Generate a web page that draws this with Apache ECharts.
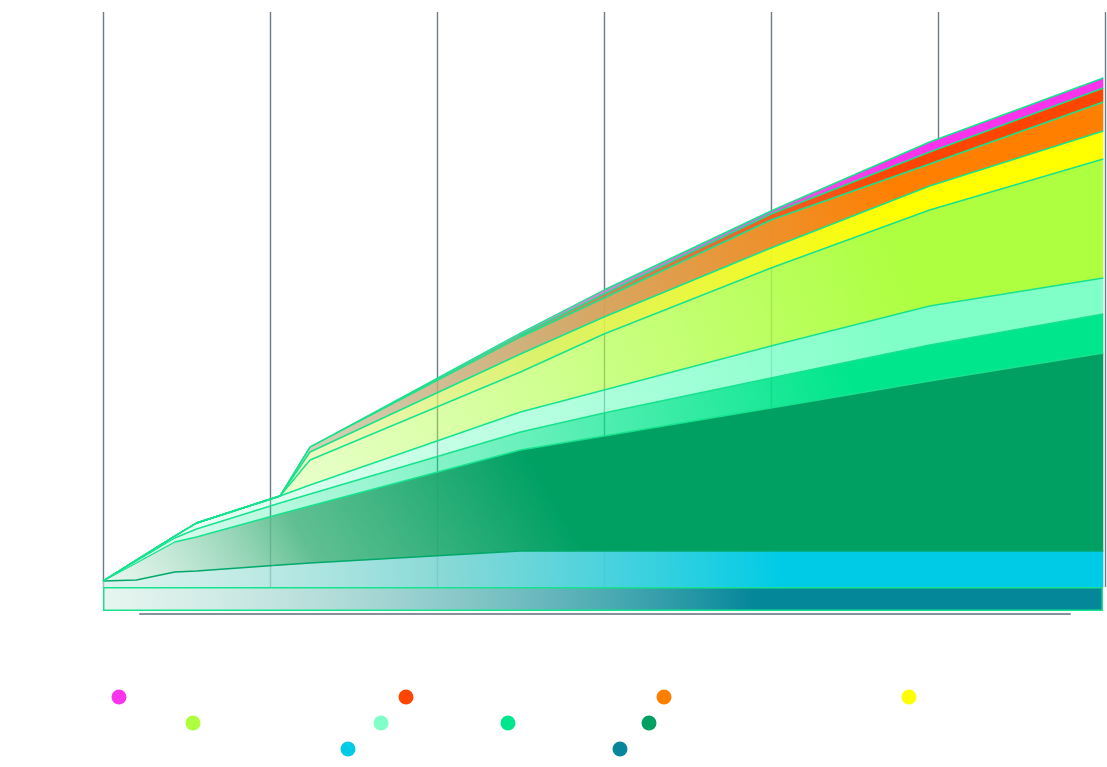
<!DOCTYPE html>
<html><head><meta charset="utf-8">
<script src="https://cdn.jsdelivr.net/npm/echarts@6/dist/echarts.min.js"></script>
<style>html,body{margin:0;padding:0;background:#fff}#c{width:1107px;height:767px}</style>
</head><body><div id="c"></div>
<script>
// ---- data ----
const xValues = [0, 0.2, 0.43, 0.56, 1.06, 1.24, 2.5, 3.0, 4.0, 4.95, 5.99];
const cyanValues        = [1.2, 1.4, 3, 3.2, 4.4, 4.8, 7.2, 7.2, 7.2, 7.2, 7.2];
const greenValues       = [0, 3.4, 6, 6.8, 10.2, 11.4, 20.2, 23, 28.6, 34, 39.6];
const springGreenValues = [0, 0.4, 0.8, 1.6, 2.2, 2.4, 3.6, 4.6, 6, 7.2, 7.8];
const aquamarineValues  = [0, 0.2, 0.4, 1.2, 1.4, 1.8, 4, 4.6, 6.4, 7.8, 7.2];
const greenYellowValues = [0, 0, 0, 0, 0, 5, 8, 11.2, 15.6, 19.2, 23.8];
const yellowValues      = [0, 0, 0, 0, 0, 1.6, 3.6, 3.4, 4, 4.8, 5.6];
const orangeValues      = [0, 0, 0, 0, 0, 1, 3.4, 3.8, 5.6, 4.4, 5.8];
const orangeRedValues   = [0, 0, 0, 0, 0, 0, 0.4, 0.8, 1.2, 2.4, 2.8];
const magentaValues     = [0, 0, 0, 0, 0, 0, 0.4, 0.8, 0.6, 2, 2];
const tealValues = [4.8];
const tealCategories = [''];
const seriesNames = ['Magenta', 'Orange Red', 'Orange', 'Yellow', 'Green Yellow', 'Aquamarine', 'Spring Green', 'Green', 'Cyan', 'Teal'];

// ---- styles ----
const colors = {
  'Magenta': '#fc33ec', 'Orange Red': '#ff4600', 'Orange': '#ff7f00', 'Yellow': '#ffff00',
  'Green Yellow': '#adff3f', 'Aquamarine': '#80ffc8', 'Spring Green': '#00e68c', 'Green': '#00a063',
  'Cyan': '#00cbe6', 'Teal': '#05879a'
};
function rgba(hex, a) {
  const n = parseInt(hex.slice(1), 16);
  return 'rgba(' + ((n >> 16) & 255) + ',' + ((n >> 8) & 255) + ',' + (n & 255) + ',' + a + ')';
}
function grad(stops, x2, y2) {
  return new echarts.graphic.LinearGradient(0, 1, x2 == null ? 1 : x2, y2 == null ? 0 : y2,
    stops.map(s => ({offset: s[0], color: s[1]})));
}
const areaFill = {
  'Cyan': grad([[0, 'rgba(200,236,226,0.6)'], [0.35, 'rgba(120,212,210,0.9)'], [0.68, colors['Cyan']], [1, colors['Cyan']]]),
  'Green': grad([[0, 'rgba(190,230,210,0.35)'], [0.45, 'rgba(80,185,135,0.9)'], [1, colors['Green']]], 0.37, 0.05),
  'Spring Green': grad([[0, rgba(colors['Spring Green'], 0.05)], [0.75, colors['Spring Green']], [1, colors['Spring Green']]]),
  'Aquamarine': grad([[0, rgba(colors['Aquamarine'], 0.05)], [0.8, colors['Aquamarine']], [1, colors['Aquamarine']]]),
  'Green Yellow': grad([[0, rgba(colors['Green Yellow'], 0.04)], [0.8, colors['Green Yellow']], [1, colors['Green Yellow']]]),
  'Yellow': grad([[0, 'rgba(230,245,200,0.3)'], [0.45, 'rgba(215,240,90,0.9)'], [0.8, colors['Yellow']], [1, colors['Yellow']]]),
  'Orange': grad([[0, 'rgba(170,185,160,0.3)'], [0.45, 'rgba(205,170,110,0.95)'], [0.8, colors['Orange']], [1, colors['Orange']]]),
  'Orange Red': grad([[0, 'rgba(170,185,160,0.3)'], [0.45, 'rgba(215,130,90,0.95)'], [0.8, colors['Orange Red']], [1, colors['Orange Red']]]),
  'Magenta': grad([[0, 'rgba(170,185,160,0.3)'], [0.45, 'rgba(205,140,200,0.95)'], [0.8, colors['Magenta']], [1, colors['Magenta']]]),
  'Teal': grad([[0, 'rgba(160,215,195,0.25)'], [0.65, colors['Teal']], [1, colors['Teal']]])
};
const lineGreen = '#16e38e';

const stackOrder = [
  ['Cyan', cyanValues], ['Green', greenValues], ['Spring Green', springGreenValues],
  ['Aquamarine', aquamarineValues], ['Green Yellow', greenYellowValues], ['Yellow', yellowValues],
  ['Orange', orangeValues], ['Orange Red', orangeRedValues], ['Magenta', magentaValues]
];

// value first, x second, so the stack is applied to the y dimension
const series = stackOrder.map(([name, vals]) => ({
  name: name, type: 'line', stack: 'total', xAxisIndex: 0, yAxisIndex: 0,
  symbol: 'none', showSymbol: false,
  encode: {x: 1, y: 0},
  data: xValues.map((x, i) => [vals[i], x]),
  itemStyle: {color: colors[name]},
  lineStyle: {color: name === 'Cyan' ? '#00a86a' : lineGreen, width: 1.4},
  areaStyle: {color: areaFill[name], opacity: 1},
  emphasis: {disabled: true}
}));
series.push({
  name: 'Teal', type: 'bar', xAxisIndex: 1, yAxisIndex: 1, barWidth: '100%',
  data: tealValues,
  itemStyle: {color: areaFill['Teal'], borderColor: lineGreen, borderWidth: 1.5},
  emphasis: {disabled: true}
});

// legend: one component per item (icon centre positions)
const legendIconCentres = {
  'Magenta': [119, 697], 'Orange Red': [406, 697], 'Orange': [664, 697], 'Yellow': [909, 697],
  'Green Yellow': [193, 723], 'Aquamarine': [381, 723], 'Spring Green': [508, 723], 'Green': [649, 723],
  'Cyan': [348, 749], 'Teal': [620, 749]
};
const legends = seriesNames.map(n => ({
  left: legendIconCentres[n][0] - 7.5, top: legendIconCentres[n][1] - 7.5, padding: 0,
  itemWidth: 15, itemHeight: 15, icon: 'circle', selectedMode: false,
  textStyle: {color: '#ffffff', fontSize: 12},
  itemStyle: {borderWidth: 0},
  data: [{name: n, itemStyle: {color: colors[n], borderWidth: 0}}]
}));

const chart = echarts.init(document.getElementById('c'));
chart.setOption({
  animation: false,
  backgroundColor: '#ffffff',
  legend: legends,
  grid: [
    {left: 103, right: 2, top: 12, height: 575},
    {left: 103, width: 1000, top: 587, height: 24},
    {left: 140, right: 37, top: 604, height: 10}
  ],
  xAxis: [
    {type: 'value', gridIndex: 0, min: 0, max: 6, interval: 1,
      axisLine: {show: false}, axisTick: {show: false}, axisLabel: {show: false},
      splitLine: {show: true, lineStyle: {color: '#6e7c87', width: 1.4}}},
    {type: 'category', gridIndex: 1, data: tealCategories, boundaryGap: true,
      axisLine: {show: false}, axisTick: {show: false}, axisLabel: {show: false}, splitLine: {show: false}},
    {type: 'value', gridIndex: 2, min: 0, max: 1,
      axisLine: {show: true, onZero: false, lineStyle: {color: '#87919a', width: 2}},
      axisTick: {show: false}, axisLabel: {show: false}, splitLine: {show: false}}
  ],
  yAxis: [
    {type: 'value', gridIndex: 0, min: 0, max: 115, show: false, splitLine: {show: false}},
    {type: 'value', gridIndex: 1, min: 0, max: 4.8, show: false, splitLine: {show: false}},
    {type: 'value', gridIndex: 2, min: 0, max: 1, show: false, splitLine: {show: false}}
  ],
  series: series
});
</script>
</body></html>
